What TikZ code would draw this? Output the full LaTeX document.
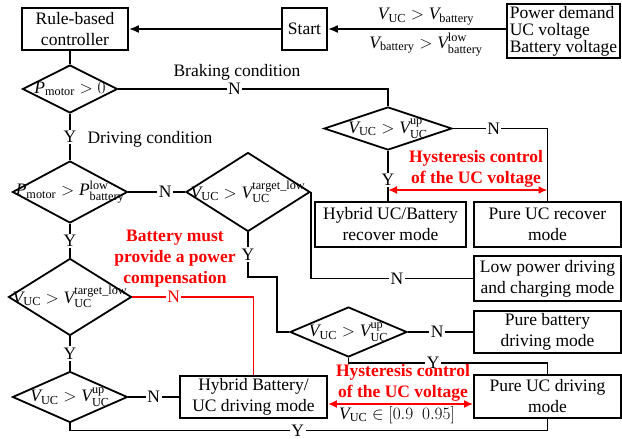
\documentclass[tikz,border=0pt]{standalone}
\usepackage{fontspec}
\setmainfont{Liberation Serif}
\usepackage{amsmath}
\usetikzlibrary{shapes.geometric,arrows.meta}

\tikzset{
	box/.style={draw, line width=1.8pt, align=center, inner sep=0pt, font=\fontsize{17.5}{21}\selectfont},
	decide/.style={diamond, draw, line width=1.8pt, inner sep=0pt, font=\fontsize{17.5}{21}\selectfont},
	yn/.style={fill=white, inner sep=1.5pt, font=\fontsize{17.5}{21}\selectfont},
	flow/.style={line width=1.8pt},
	note/.style={red, align=center, font=\bfseries\fontsize{17.5}{21}\selectfont},
	hyst/.style={red, line width=1.8pt, {Latex[length=9pt,width=8pt]}-{Latex[length=9pt,width=8pt]}}
}

\newcommand{\vuc}{\mathit{V}_{\mathrm{UC}}}

\begin{document}
\begin{tikzpicture}[x=1pt, y=-1pt, font=\fontsize{17.5}{21}\selectfont]
	\useasboundingbox (0,0) rectangle (622,439);

	% boxes
	\node[box, minimum width=106pt, minimum height=42pt] (ctrl) at (75,29) {Rule-based\\controller};
	\node[box, minimum width=45pt, minimum height=42pt] (start) at (304.5,29) {Start};
	\node[box, minimum width=113pt, minimum height=54pt, align=left, font=\fontsize{17.5}{17}\selectfont] (input) at (563.5,31) {Power demand\\UC voltage\\Battery voltage};
	\node[box, minimum width=151pt, minimum height=45pt] (hybridRec) at (390.5,224.5) {Hybrid UC/Battery\\recover mode};
	\node[box, minimum width=147pt, minimum height=45pt] (pureRec) at (547.5,224.5) {Pure UC recover\\mode};
	\node[box, minimum width=147pt, minimum height=45pt] (lowPow) at (547.5,278.5) {Low power driving\\and charging mode};
	\node[box, minimum width=147pt, minimum height=42pt] (pureBat) at (547.5,332) {Pure battery\\driving mode};
	\node[box, minimum width=147pt, minimum height=43pt] (pureUC) at (547.5,396.5) {Pure UC driving\\mode};
	\node[box, minimum width=147pt, minimum height=42pt] (hybridDrv) at (253.5,397) {Hybrid Battery/\\UC driving mode};

	% decisions
	\node[decide, minimum width=95pt, minimum height=48pt] (d1) at (70,89) {\makebox[0pt]{$\mathit{P}_{\mathrm{motor}} > 0$}};
	\node[decide, minimum width=128pt, minimum height=43pt] (d2) at (388,128.5) {\makebox[0pt]{$\vuc > \mathit{V}_{\mathrm{UC}}^{\mathrm{up}}$}};
	\node[decide, minimum width=115pt, minimum height=62pt] (d3) at (70,192) {\makebox[0pt]{$\mathit{P}_{\mathrm{motor}} > \mathit{P}_{\mathrm{battery}}^{\mathrm{low}}$}};
	\node[decide, minimum width=124pt, minimum height=79pt] (d4) at (248,192) {\makebox[0pt]{$\vuc > \mathit{V}_{\mathrm{UC}}^{\mathrm{target\_low}}$}};
	\node[decide, minimum width=117pt, minimum height=50pt] (d5) at (348.5,332) {\makebox[0pt]{$\vuc > \mathit{V}_{\mathrm{UC}}^{\mathrm{up}}$}};
	\node[decide, minimum width=123pt, minimum height=77pt] (d7) at (70,297) {\makebox[0pt]{$\vuc > \mathit{V}_{\mathrm{UC}}^{\mathrm{target\_low}}$}};
	\node[decide, minimum width=115pt, minimum height=51pt] (d6) at (70,397) {\makebox[0pt]{$\vuc > \mathit{V}_{\mathrm{UC}}^{\mathrm{up}}$}};

	\coordinate (k1) at (277,277);
	\coordinate (k2) at (0,363);
	\coordinate (k3) at (0,430.5);
	\coordinate (k4) at (0,190);
	\coordinate (k5) at (0,404);

	% inputs
	\draw[flow, -{Latex[length=10pt,width=8pt]}] (start.west) -- (ctrl.east);
	\draw[flow, -{Latex[length=10pt,width=8pt]}] (input.west |- start.east) -- node[pos=0.45, above] (cA) {$\vuc > \mathit{V}_{\mathrm{battery}}$} node[pos=0.45, below] (cB) {$\mathit{V}_{\mathrm{battery}} > \mathit{V}_{\mathrm{battery}}^{\mathrm{low}}$} (start.east);
	\draw[flow] (d1.north |- ctrl.south) -- (d1.north);

	% braking
	\draw[flow] (d1.east) -- node[yn, pos=0.43] (n1) {N} (d1.east -| d2.north) -- (d2.north);
	\node (brake) at (237,72) {Braking condition};
	\draw[flow] (d2.east) -- node[yn, pos=0.43] (n2) {N} (d2.east -| pureRec.north) -- (pureRec.north);
	\draw[flow] (d2.south) -- node[yn, pos=0.58] (y2) {Y} (d2.south |- hybridRec.north);
	\draw[hyst] (d2.south |- k4) -- (pureRec.north |- k4);
	\node[note] (hystA) at (476,168.5) {Hysteresis control\\of the UC voltage};

	% driving
	\draw[flow] (d1.south) -- node[yn] (y1) {Y} (d3.north);
	\node (drive) at (150,139) {Driving condition};
	\draw[flow] (d3.east) -- node[yn, pos=0.65] (n3) {N} (d4.west);
	\draw[flow] (d4.east) -- (d4.east |- lowPow.west) -- node[yn, pos=0.53] (n4) {N} (lowPow.west);
	\draw[flow] (d4.south) -- node[yn] (y4) {Y} (d4.south |- k1) -- (k1) -- (k1 |- d5.west) -- (d5.west);
	\draw[flow] (d5.east) -- node[yn, pos=0.45] (n5) {N} (pureBat.west);
	\draw[flow] (d5.south) -- (d5.south |- k2) -- node[yn, pos=0.425] (y5) {Y} (pureUC.north |- k2) -- (pureUC.north);
	\draw[flow] (d3.south) -- node[yn] (y3) {Y} (d7.north);
	\draw[flow] (d7.south) -- node[yn] (y7) {Y} (d6.north);
	\draw[flow, red] (d7.east) -- node[yn, text=red, pos=0.34] (n7) {N} (d7.east -| hybridDrv.north) -- (hybridDrv.north);
	\node[note] (comp) at (175,259) {Battery must\\provide a power\\compensation};
	\draw[flow] (d6.east) -- node[yn] (n6) {N} (hybridDrv.west);
	\draw[flow] (pureUC.south) -- (pureUC.south |- k3) -- node[yn, pos=0.523, inner ysep=0pt] (y6) {Y} (d6.south |- k3) -- (d6.south);
	\draw[hyst] (hybridDrv.east |- k5) -- (pureUC.west |- k5);
	\node[note] (hystB) at (403,382.5) {Hysteresis control\\of the UC voltage};
	\node (range) at (397,415) {$\vuc \in [0.9\ \ 0.95]$};
\end{tikzpicture}
\end{document}
